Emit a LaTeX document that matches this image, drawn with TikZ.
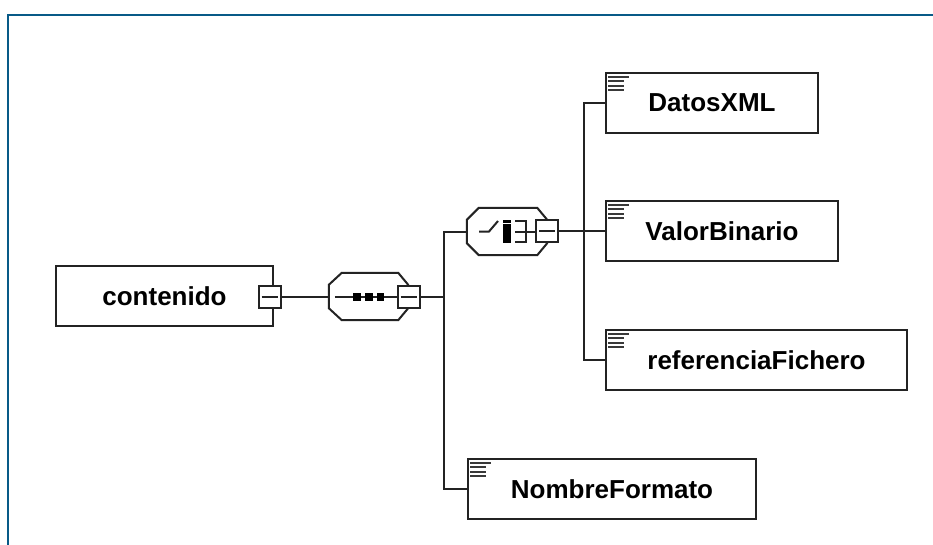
\documentclass[tikz,border=0pt]{standalone}
\usepackage{fontspec}
\setmainfont{Liberation Sans}
\usetikzlibrary{calc}
\definecolor{linec}{RGB}{35,35,35}
\definecolor{framec}{RGB}{8,90,135}
\newcommand\elemfont{\fontsize{26}{30}\selectfont\bfseries}
\newcommand\elemicon[1]{%
  \draw[iconl] ($(#1.north west)+(3,5)$) -- ++(21,0);
  \draw[iconl] ($(#1.north west)+(3,9.3)$) -- ++(16,0);
  \draw[iconl] ($(#1.north west)+(3,13.6)$) -- ++(16,0);
  \draw[iconl] ($(#1.north west)+(3,17.9)$) -- ++(16,0);}
\newcommand\minusline{}
\renewcommand\minusline[1]{%
  \draw[conn] ($(#1.west)+(4,0)$) -- ($(#1.east)+(-4,0)$);}
\tikzset{
  conn/.style={draw=linec, line width=2pt},
  elem/.style={draw=linec, line width=2pt, fill=white, minimum height=60pt,
    inner sep=0pt, anchor=west, font=\elemfont, text=black},
  minusbox/.style={draw=linec, line width=2pt, fill=white, minimum size=22pt, inner sep=0pt},
  compbox/.style={minimum height=47pt, inner sep=0pt},
  iconl/.style={draw=linec!90, line width=2pt},
}
\begin{document}
\begin{tikzpicture}[x=1pt, y=-1pt]
\useasboundingbox (0,0) rectangle (933,545);
\fill[white] (0,0) rectangle (933,545);
% frame
\draw[framec, line width=2.2pt] (933,15) -- (8,15) -- (8,545);

% root element
\node[elem, minimum width=217pt] (contenido) at (55,296) {contenido};
\node[minusbox] (cminus) at (269.5,297) {};
\minusline{cminus}

% sequence compositor
\node[compbox, minimum width=79pt] (seq) at (368.5,296.5) {};
\draw[conn, fill=white] ($(seq.north west)+(13,0)$) -- ($(seq.north east)+(-10,0)$)
  -- ($(seq.north east)+(0,12)$) -- ($(seq.south east)+(0,-12)$)
  -- ($(seq.south east)+(-10,0)$) -- ($(seq.south west)+(13,0)$)
  -- ($(seq.south west)+(0,-12)$) -- ($(seq.north west)+(0,12)$) -- cycle;
\draw[conn] ($(seq.west)+(6,0.5)$) -- ($(seq.west)+(68,0.5)$);
\foreach \xx in {357,369,380.5}
  \fill[black] (\xx-3.8,293.2) rectangle (\xx+3.8,300.8);
\node[minusbox] (sminus) at (408.5,297) {};
\minusline{sminus}
\draw[conn] (cminus.east) -- (seq.west |- cminus.east);

% choice compositor
\node[compbox, minimum width=80pt] (choice) at (507,231.5) {};
\draw[conn, fill=white] ($(choice.north west)+(12,0)$) -- ($(choice.north east)+(-10,0)$)
  -- ($(choice.north east)+(0,12)$) -- ($(choice.south east)+(0,-12)$)
  -- ($(choice.south east)+(-10,0)$) -- ($(choice.south west)+(12,0)$)
  -- ($(choice.south west)+(0,-12)$) -- ($(choice.north west)+(0,12)$) -- cycle;
% switch icon
\draw[conn] (479,231.5) -- (489,231.5) -- (498,221);
\fill[black] (503,220) rectangle (510.5,243);
\draw[white, line width=1.2pt] (502.5,223.5) -- (511,223.5);
\draw[conn] (515,221) -- (526,221) -- (526,242) -- (515,242);
\draw[conn] (515,231.5) -- (537,231.5);
\node[minusbox] (chminus) at (547,231) {};
\minusline{chminus}

% elements
\node[elem, minimum width=212pt] (datos) at (605,103) {DatosXML};
\node[elem, minimum width=232pt] (valor) at (605,231) {ValorBinario};
\node[elem, minimum width=301pt] (ref) at (605,360) {referenciaFichero};
\node[elem, minimum width=288pt] (nombre) at (467,489) {NombreFormato};
\elemicon{datos}
\elemicon{valor}
\elemicon{ref}
\elemicon{nombre}

% connectors
\draw[conn] (sminus.east) -- ++(23,0) |- (choice.west);
\draw[conn] (sminus.east) -- ++(23,0) |- (nombre.west);
\draw[conn] (chminus.east) -- ++(25,0) |- (datos.west);
\draw[conn] (chminus.east) -- ++(25,0) |- (valor.west);
\draw[conn] (chminus.east) -- ++(25,0) |- (ref.west);
\end{tikzpicture}
\end{document}
